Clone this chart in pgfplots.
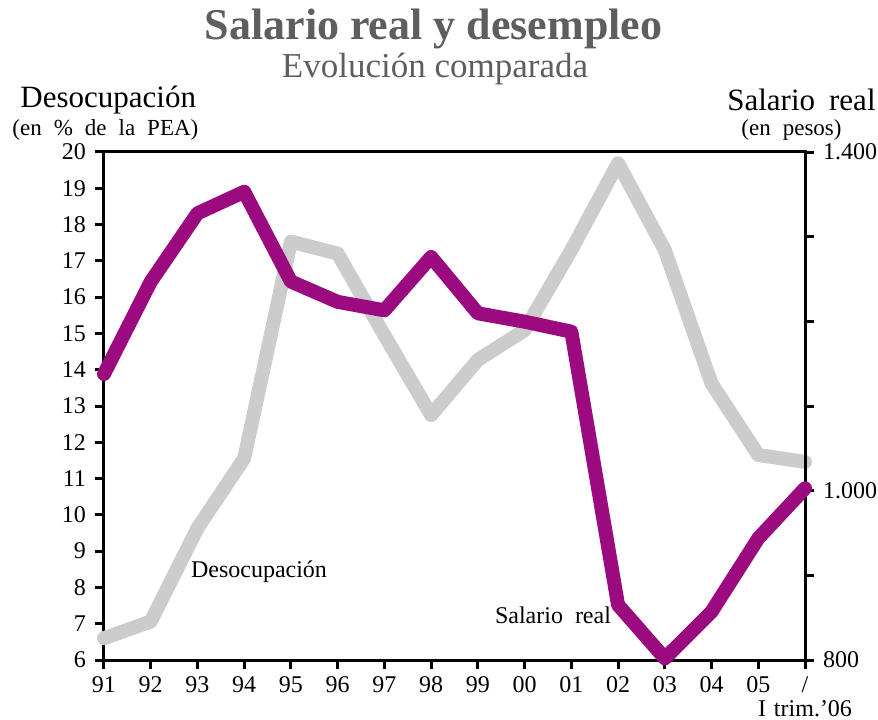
\documentclass[border=0pt]{standalone}
\usepackage{pgfplots}
\pgfplotsset{compat=1.18}
\usepackage{fontspec}
\setmainfont{Liberation Serif}
\definecolor{purp}{HTML}{9C0A80}
\definecolor{lgray}{HTML}{CCCCCC}
\definecolor{tgray}{HTML}{5E5E5E}
\begin{document}
\begin{tikzpicture}
\path[use as bounding box] (-52pt,-29.5pt) rectangle (387pt,330pt);
\begin{axis}[
 at={(0,0)}, anchor=south west,
 scale only axis, width=350.5pt, height=254pt,
 xmin=0, xmax=15, ymin=6, ymax=20,
 axis line style={line width=1.5pt},
 xtick={0,...,15},
 xticklabels={91,92,93,94,95,96,97,98,99,00,01,02,03,04,05,{/\\[-1pt]I\hspace{4pt}trim.’06}},
 ytick={6,...,20},
 xtick pos=bottom, ytick pos=left,
 tick align=outside, major tick length=4.5pt,
 tick style={line width=1.5pt, black},
 ticklabel style={font=\fontsize{12}{13}\selectfont},
 x tick label style={align=center, inner sep=1pt, yshift=-2.5pt},
 y tick label style={xshift=-1pt},
 /pgf/number format/assume math mode=true,
 clip=false,
]
\addplot[lgray, line width=7pt, line cap=round, line join=round] coordinates {
 (0,6.6) (1,7.06) (2,9.63) (3,11.56) (4,17.53) (5,17.2) (6,14.95) (7,12.75)
 (8,14.27) (9,15.09) (10,17.3) (11,19.69) (12,17.3) (13,13.62) (14,11.65) (15,11.46)
};
\end{axis}
\begin{axis}[
 at={(0,0)}, anchor=south west,
 scale only axis, width=350.5pt, height=254pt,
 xmin=0, xmax=15, ymin=800, ymax=1400,
 axis x line=none, axis y line*=right,
 axis line style={line width=1.5pt},
 ytick={800,900,...,1400},
 yticklabels={800,,1.000,,,,1.400},
 tick align=outside, major tick length=4.5pt,
 tick style={line width=1.5pt, black},
 ticklabel style={font=\fontsize{12}{13}\selectfont},
 y tick label style={xshift=1pt},
 /pgf/number format/assume math mode=true,
 clip=false,
]
\addplot[purp, line width=7pt, line cap=round, line join=round] coordinates {
 (0,1137.8) (1,1246.8) (2,1327.6) (3,1353) (4,1247) (5,1223) (6,1213) (7,1276)
 (8,1209.5) (9,1199.6) (10,1187.8) (11,865) (12,802) (13,857) (14,943.7) (15,1002.8)
};
\end{axis}
\node[font=\fontsize{22}{24}\selectfont\bfseries, text=tgray] at (164.75pt,315.5pt) {Salario real y desempleo};
\node[font=\fontsize{17.5}{20}\selectfont, text=tgray] at (165.5pt,295.5pt) {Evolución comparada};
\node[font=\fontsize{15.5}{18}\selectfont, anchor=west, inner sep=0pt] at (-42pt,280pt) {Desocupación};
\node[font=\fontsize{11.5}{13}\selectfont, anchor=west, inner sep=0pt] at (-46pt,265pt) {\spaceskip=6pt plus 1pt\relax (en \% de la PEA)};
\node[font=\fontsize{15.5}{18}\selectfont, anchor=east, inner sep=0pt] at (386pt,280pt) {\spaceskip=7pt plus 1pt\relax Salario real};
\node[font=\fontsize{11.5}{13}\selectfont, inner sep=0pt] at (343.75pt,265pt) {\spaceskip=6pt plus 1pt\relax (en pesos)};
\node[font=\fontsize{12}{13}\selectfont] at (77.5pt,44pt) {Desocupación};
\node[font=\fontsize{12}{13}\selectfont] at (224.5pt,22.5pt) {\spaceskip=6pt plus 1pt\relax Salario real};
\end{tikzpicture}
\end{document}
